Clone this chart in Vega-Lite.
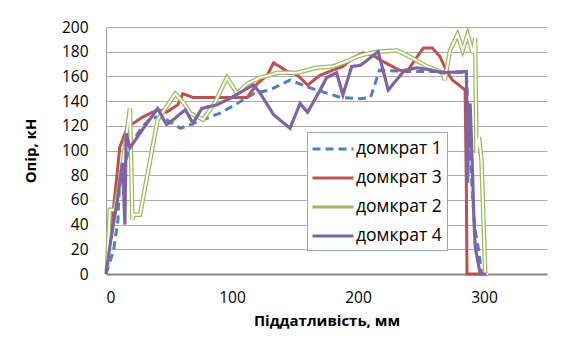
{
  "$schema": "https://vega.github.io/schema/vega-lite/v6.json",
  "width": 441,
  "height": 247,
  "autosize": "none",
  "padding": {"left": 106, "top": 27, "right": 19, "bottom": 68},
  "background": "white",
  "config": {"view": {"stroke": null}},
  "datasets": {
    "d": [
      {"series": "домкрат 1", "x": 0, "y": 0},
      {"series": "домкрат 1", "x": 6, "y": 19},
      {"series": "домкрат 1", "x": 9.5, "y": 44},
      {"series": "домкрат 1", "x": 11, "y": 79},
      {"series": "домкрат 1", "x": 15, "y": 90},
      {"series": "домкрат 1", "x": 21, "y": 108},
      {"series": "домкрат 1", "x": 29, "y": 119},
      {"series": "домкрат 1", "x": 35, "y": 126},
      {"series": "домкрат 1", "x": 41, "y": 127},
      {"series": "домкрат 1", "x": 48, "y": 125},
      {"series": "домкрат 1", "x": 59, "y": 118},
      {"series": "домкрат 1", "x": 67, "y": 121},
      {"series": "домкрат 1", "x": 77, "y": 125},
      {"series": "домкрат 1", "x": 90, "y": 130},
      {"series": "домкрат 1", "x": 104, "y": 138},
      {"series": "домкрат 1", "x": 117, "y": 146},
      {"series": "домкрат 1", "x": 130, "y": 149},
      {"series": "домкрат 1", "x": 146, "y": 157},
      {"series": "домкрат 1", "x": 164, "y": 150},
      {"series": "домкрат 1", "x": 186, "y": 143},
      {"series": "домкрат 1", "x": 202, "y": 142},
      {"series": "домкрат 1", "x": 210, "y": 143},
      {"series": "домкрат 1", "x": 217, "y": 165},
      {"series": "домкрат 1", "x": 240, "y": 164},
      {"series": "домкрат 1", "x": 265, "y": 164},
      {"series": "домкрат 1", "x": 286, "y": 163},
      {"series": "домкрат 1", "x": 287, "y": 140},
      {"series": "домкрат 1", "x": 289, "y": 100},
      {"series": "домкрат 1", "x": 291, "y": 60},
      {"series": "домкрат 1", "x": 293, "y": 35},
      {"series": "домкрат 1", "x": 296, "y": 18},
      {"series": "домкрат 1", "x": 298, "y": 0},
      {"series": "домкрат 1", "x": 301, "y": 0},

      {"series": "домкрат 3", "x": 0, "y": 2},
      {"series": "домкрат 3", "x": 5, "y": 44},
      {"series": "домкрат 3", "x": 11, "y": 103},
      {"series": "домкрат 3", "x": 17, "y": 119},
      {"series": "домкрат 3", "x": 29, "y": 127},
      {"series": "домкрат 3", "x": 41, "y": 133},
      {"series": "домкрат 3", "x": 48, "y": 131},
      {"series": "домкрат 3", "x": 57, "y": 137},
      {"series": "домкрат 3", "x": 61, "y": 146},
      {"series": "домкрат 3", "x": 69, "y": 143},
      {"series": "домкрат 3", "x": 83, "y": 143},
      {"series": "домкрат 3", "x": 112, "y": 143},
      {"series": "домкрат 3", "x": 120, "y": 154},
      {"series": "домкрат 3", "x": 128, "y": 161},
      {"series": "домкрат 3", "x": 133, "y": 171},
      {"series": "домкрат 3", "x": 144, "y": 164},
      {"series": "домкрат 3", "x": 152, "y": 161},
      {"series": "домкрат 3", "x": 160, "y": 153},
      {"series": "домкрат 3", "x": 170, "y": 161},
      {"series": "домкрат 3", "x": 180, "y": 165},
      {"series": "домкрат 3", "x": 188, "y": 168},
      {"series": "домкрат 3", "x": 196, "y": 175},
      {"series": "домкрат 3", "x": 204, "y": 179},
      {"series": "домкрат 3", "x": 212, "y": 177},
      {"series": "домкрат 3", "x": 220, "y": 172},
      {"series": "домкрат 3", "x": 233, "y": 165},
      {"series": "домкрат 3", "x": 239, "y": 164},
      {"series": "домкрат 3", "x": 247, "y": 176},
      {"series": "домкрат 3", "x": 252, "y": 183},
      {"series": "домкрат 3", "x": 259, "y": 183},
      {"series": "домкрат 3", "x": 265, "y": 176},
      {"series": "домкрат 3", "x": 271, "y": 163},
      {"series": "домкрат 3", "x": 275, "y": 157},
      {"series": "домкрат 3", "x": 285, "y": 149},
      {"series": "домкрат 3", "x": 286, "y": 70},
      {"series": "домкрат 3", "x": 286.5, "y": 0},
      {"series": "домкрат 3", "x": 298, "y": 0},

      {"series": "домкрат 2", "x": 0.8, "y": 5},
      {"series": "домкрат 2", "x": 3, "y": 52},
      {"series": "домкрат 2", "x": 7, "y": 52},
      {"series": "домкрат 2", "x": 13, "y": 87},
      {"series": "домкрат 2", "x": 19, "y": 134},
      {"series": "домкрат 2", "x": 21, "y": 44},
      {"series": "домкрат 2", "x": 22, "y": 48},
      {"series": "домкрат 2", "x": 27, "y": 48},
      {"series": "домкрат 2", "x": 41, "y": 125},
      {"series": "домкрат 2", "x": 55, "y": 146},
      {"series": "домкрат 2", "x": 62, "y": 138},
      {"series": "домкрат 2", "x": 67, "y": 130},
      {"series": "домкрат 2", "x": 77, "y": 125},
      {"series": "домкрат 2", "x": 86, "y": 138},
      {"series": "домкрат 2", "x": 96, "y": 159},
      {"series": "домкрат 2", "x": 104, "y": 146},
      {"series": "домкрат 2", "x": 112, "y": 154},
      {"series": "домкрат 2", "x": 122, "y": 159},
      {"series": "домкрат 2", "x": 130, "y": 161},
      {"series": "домкрат 2", "x": 136, "y": 163},
      {"series": "домкрат 2", "x": 152, "y": 163},
      {"series": "домкрат 2", "x": 167, "y": 167},
      {"series": "домкрат 2", "x": 180, "y": 168},
      {"series": "домкрат 2", "x": 188, "y": 171},
      {"series": "домкрат 2", "x": 202, "y": 177},
      {"series": "домкрат 2", "x": 215, "y": 180},
      {"series": "домкрат 2", "x": 231, "y": 181},
      {"series": "домкрат 2", "x": 241, "y": 176},
      {"series": "домкрат 2", "x": 255, "y": 168},
      {"series": "домкрат 2", "x": 267, "y": 163},
      {"series": "домкрат 2", "x": 269, "y": 157},
      {"series": "домкрат 2", "x": 273, "y": 181},
      {"series": "домкрат 2", "x": 279, "y": 194},
      {"series": "домкрат 2", "x": 283, "y": 181},
      {"series": "домкрат 2", "x": 287, "y": 194},
      {"series": "домкрат 2", "x": 291, "y": 179},
      {"series": "домкрат 2", "x": 293, "y": 191},
      {"series": "домкрат 2", "x": 294, "y": 98},
      {"series": "домкрат 2", "x": 296, "y": 111},
      {"series": "домкрат 2", "x": 298, "y": 92},
      {"series": "домкрат 2", "x": 301, "y": 0},
      {"series": "домкрат 2", "x": 303, "y": 0},

      {"series": "домкрат 4", "x": 0, "y": 0},
      {"series": "домкрат 4", "x": 3, "y": 22},
      {"series": "домкрат 4", "x": 9, "y": 60},
      {"series": "домкрат 4", "x": 13, "y": 90},
      {"series": "домкрат 4", "x": 15, "y": 40},
      {"series": "домкрат 4", "x": 16, "y": 114},
      {"series": "домкрат 4", "x": 19, "y": 102},
      {"series": "домкрат 4", "x": 29, "y": 117},
      {"series": "домкрат 4", "x": 41, "y": 134},
      {"series": "домкрат 4", "x": 48, "y": 121},
      {"series": "домкрат 4", "x": 51, "y": 123},
      {"series": "домкрат 4", "x": 63, "y": 133},
      {"series": "домкрат 4", "x": 69, "y": 122},
      {"series": "домкрат 4", "x": 76, "y": 134},
      {"series": "домкрат 4", "x": 88, "y": 137},
      {"series": "домкрат 4", "x": 98, "y": 142},
      {"series": "домкрат 4", "x": 117, "y": 153},
      {"series": "домкрат 4", "x": 122, "y": 147},
      {"series": "домкрат 4", "x": 133, "y": 129},
      {"series": "домкрат 4", "x": 146, "y": 118},
      {"series": "домкрат 4", "x": 154, "y": 138},
      {"series": "домкрат 4", "x": 160, "y": 131},
      {"series": "домкрат 4", "x": 170, "y": 149},
      {"series": "домкрат 4", "x": 175, "y": 159},
      {"series": "домкрат 4", "x": 183, "y": 163},
      {"series": "домкрат 4", "x": 188, "y": 145},
      {"series": "домкрат 4", "x": 195, "y": 168},
      {"series": "домкрат 4", "x": 202, "y": 169},
      {"series": "домкрат 4", "x": 216, "y": 180},
      {"series": "домкрат 4", "x": 224, "y": 149},
      {"series": "домкрат 4", "x": 237, "y": 165},
      {"series": "домкрат 4", "x": 247, "y": 167},
      {"series": "домкрат 4", "x": 259, "y": 165},
      {"series": "домкрат 4", "x": 267, "y": 163},
      {"series": "домкрат 4", "x": 286, "y": 164},
      {"series": "домкрат 4", "x": 287, "y": 74},
      {"series": "домкрат 4", "x": 288, "y": 130},
      {"series": "домкрат 4", "x": 289, "y": 138},
      {"series": "домкрат 4", "x": 291, "y": 79},
      {"series": "домкрат 4", "x": 292, "y": 44},
      {"series": "домкрат 4", "x": 293, "y": 22},
      {"series": "домкрат 4", "x": 297, "y": 0},
      {"series": "домкрат 4", "x": 302, "y": 0}
    ]
  },
  "data": {"name": "d"},
  "encoding": {
    "x": {
      "field": "x", "type": "quantitative",
      "scale": {"domain": [0, 350], "nice": false},
      "axis": {
        "values": [0, 100, 200, 300], "grid": false, "ticks": false,
        "domainColor": "#888888", "domainWidth": 2,
        "labelFont": "Open Sans", "labelFontSize": 15.5, "labelColor": "black", "labelPadding": 16,
        "title": "Піддатливість, мм", "titleFont": "Open Sans", "titleFontSize": 15,
        "titleFontWeight": "bold", "titleColor": "black", "titlePadding": 8
      }
    },
    "y": {
      "field": "y", "type": "quantitative",
      "scale": {"domain": [0, 200], "nice": false},
      "axis": {
        "values": [0, 20, 40, 60, 80, 100, 120, 140, 160, 180, 200],
        "grid": true, "gridColor": "#ABABAB", "gridWidth": 1, "ticks": false,
        "domainColor": "#9A9A9A", "domainWidth": 1,
        "labelFont": "Open Sans", "labelFontSize": 15.5, "labelColor": "black", "labelPadding": 18,
        "title": "Опір, кН", "titleFont": "Open Sans", "titleFontSize": 15,
        "titleFontWeight": "bold", "titleColor": "black", "titlePadding": 23
      }
    },
    "color": {
      "field": "series", "type": "nominal",
      "scale": {
        "domain": ["домкрат 1", "домкрат 3", "домкрат 2", "домкрат 4"],
        "range": ["#4F81BD", "#C0504D", "#9BBB59", "#8064A2"]
      },
      "legend": {
        "orient": "none", "legendX": 201, "legendY": 105,
        "title": null, "fillColor": "white", "strokeColor": "#86A9D6",
        "padding": 5, "symbolType": "M-2,0H2", "symbolSize": 420, "symbolStrokeWidth": 3,
        "symbolOffset": 9,
        "labelFont": "Open Sans", "labelFontSize": 17.5, "labelColor": "black",
        "labelOffset": 11, "rowPadding": 8
      }
    },
    "strokeDash": {
      "field": "series", "type": "nominal",
      "scale": {
        "domain": ["домкрат 1", "домкрат 3", "домкрат 2", "домкрат 4"],
        "range": [[8, 5], [1, 0], [1, 0], [1, 0]]
      },
      "legend": {
        "orient": "none", "legendX": 201, "legendY": 105,
        "title": null, "fillColor": "white", "strokeColor": "#86A9D6",
        "padding": 5, "symbolType": "M-2,0H2", "symbolSize": 420, "symbolStrokeWidth": 3,
        "symbolOffset": 9,
        "labelFont": "Open Sans", "labelFontSize": 17.5, "labelColor": "black",
        "labelOffset": 11, "rowPadding": 8
      }
    }
  },
  "layer": [
    {"transform": [{"filter": "datum.series === 'домкрат 1'"}], "mark": {"type": "line", "strokeWidth": 3}},
    {"transform": [{"filter": "datum.series === 'домкрат 3'"}], "mark": {"type": "line", "strokeWidth": 3}},
    {"transform": [{"filter": "datum.series === 'домкрат 2'"}], "mark": {"type": "line", "strokeWidth": 4.5}},
    {"transform": [{"filter": "datum.series === 'домкрат 2'"}], "mark": {"type": "line", "strokeWidth": 2, "color": "white"}, "encoding": {"color": {"value": "white"}}},
    {"transform": [{"filter": "datum.series === 'домкрат 4'"}], "mark": {"type": "line", "strokeWidth": 3.2}}
  ]
}
